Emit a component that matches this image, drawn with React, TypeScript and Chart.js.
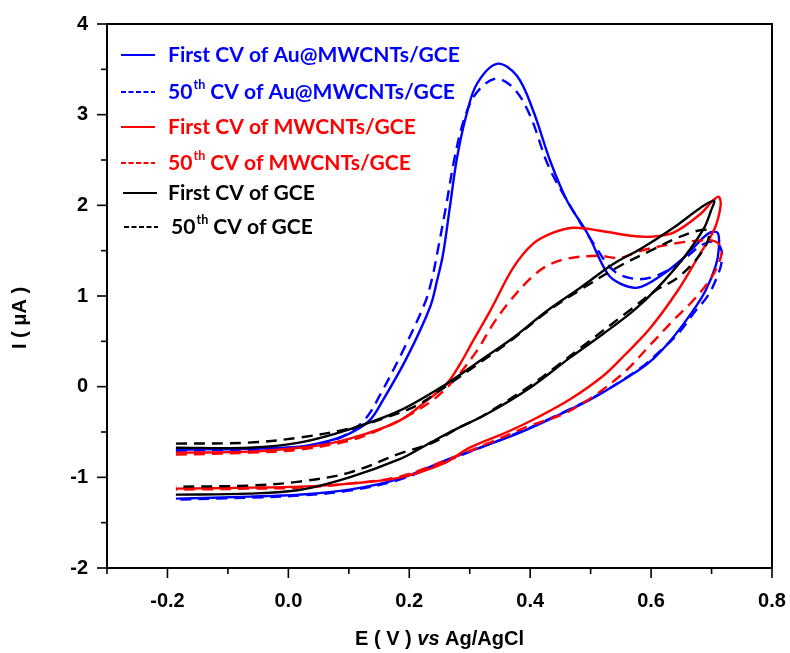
import React, { useEffect, useRef } from "react";
import { Chart, registerables } from "chart.js";
Chart.register(...registerables);

// ---------- data (E in V vs Ag/AgCl, I in µA) ----------
const auFirstX = [-0.186, -0.065, 0.018, 0.068, 0.101, 0.134, 0.156, 0.196, 0.234, 0.246, 0.256, 0.267, 0.279, 0.295, 0.312, 0.345, 0.378, 0.405, 0.433, 0.461, 0.495, 0.528, 0.549, 0.578, 0.616, 0.654, 0.694, 0.71, 0.712, 0.707, 0.69, 0.666, 0.636, 0.604, 0.578, 0.505, 0.438, 0.383, 0.317, 0.267, 0.184, 0.101, 0.018, -0.065, -0.186];
const auFirstY = [-0.695, -0.684, -0.662, -0.595, -0.518, -0.375, -0.154, 0.32, 0.871, 1.17, 1.466, 1.974, 2.525, 3.01, 3.341, 3.561, 3.429, 3.043, 2.492, 2.051, 1.687, 1.246, 1.136, 1.092, 1.224, 1.422, 1.687, 1.698, 1.521, 1.334, 1.058, 0.805, 0.54, 0.309, 0.176, -0.121, -0.342, -0.507, -0.673, -0.794, -1.014, -1.136, -1.191, -1.213, -1.235];

const auFiftyX = [-0.186, -0.065, 0.018, 0.068, 0.101, 0.129, 0.151, 0.188, 0.226, 0.238, 0.247, 0.261, 0.274, 0.29, 0.31, 0.342, 0.372, 0.4, 0.43, 0.466, 0.505, 0.538, 0.571, 0.599, 0.632, 0.661, 0.682, 0.702, 0.715, 0.717, 0.71, 0.694, 0.671, 0.646, 0.612, 0.583, 0.516, 0.45, 0.388, 0.322, 0.267, 0.184, 0.101, 0.018, -0.065, -0.186];
const auFiftyY = [-0.706, -0.695, -0.673, -0.606, -0.507, -0.342, -0.099, 0.375, 0.926, 1.2, 1.499, 1.996, 2.492, 2.933, 3.23, 3.396, 3.297, 2.988, 2.437, 1.996, 1.577, 1.279, 1.191, 1.202, 1.301, 1.444, 1.555, 1.599, 1.533, 1.389, 1.224, 1.003, 0.816, 0.595, 0.375, 0.209, -0.077, -0.298, -0.485, -0.662, -0.805, -1.025, -1.147, -1.202, -1.224, -1.246];

const mwFirstX = [-0.186, -0.065, 0.018, 0.068, 0.129, 0.184, 0.229, 0.262, 0.284, 0.305, 0.334, 0.372, 0.405, 0.438, 0.471, 0.516, 0.566, 0.599, 0.637, 0.682, 0.702, 0.712, 0.715, 0.705, 0.677, 0.644, 0.599, 0.558, 0.521, 0.466, 0.412, 0.362, 0.3, 0.256, 0.184, 0.101, 0.018, -0.065, -0.186];
const mwFirstY = [-0.728, -0.717, -0.673, -0.628, -0.518, -0.375, -0.154, 0.033, 0.25, 0.5, 0.838, 1.312, 1.577, 1.698, 1.753, 1.72, 1.665, 1.654, 1.698, 1.907, 2.051, 2.095, 1.996, 1.742, 1.422, 1.058, 0.65, 0.36, 0.12, -0.14, -0.34, -0.5, -0.673, -0.849, -1.003, -1.069, -1.103, -1.114, -1.125];

const mwFiftyX = [-0.186, -0.065, 0.018, 0.101, 0.151, 0.201, 0.242, 0.276, 0.312, 0.339, 0.367, 0.4, 0.428, 0.461, 0.511, 0.549, 0.583, 0.637, 0.677, 0.702, 0.715, 0.717, 0.708, 0.692, 0.668, 0.638, 0.604, 0.549, 0.466, 0.4, 0.329, 0.272, 0.184, 0.101, 0.018, -0.065, -0.186];
const mwFiftyY = [-0.75, -0.728, -0.695, -0.595, -0.474, -0.309, -0.132, 0.088, 0.397, 0.695, 0.948, 1.191, 1.334, 1.411, 1.444, 1.422, 1.499, 1.577, 1.61, 1.61, 1.555, 1.477, 1.3, 1.13, 0.94, 0.74, 0.5, 0.12, -0.265, -0.43, -0.628, -0.783, -0.992, -1.069, -1.114, -1.125, -1.136];

const gceFirstX = [-0.186, -0.065, 0.018, 0.101, 0.184, 0.262, 0.317, 0.372, 0.428, 0.483, 0.538, 0.583, 0.637, 0.682, 0.704, 0.699, 0.687, 0.654, 0.611, 0.571, 0.521, 0.466, 0.4, 0.329, 0.272, 0.229, 0.184, 0.101, 0.018, -0.065, -0.186];
const gceFirstY = [-0.673, -0.673, -0.617, -0.47, -0.265, 0.033, 0.287, 0.54, 0.838, 1.092, 1.356, 1.521, 1.753, 1.974, 2.051, 1.94, 1.742, 1.422, 1.092, 0.838, 0.584, 0.32, -0.011, -0.298, -0.485, -0.64, -0.8, -1.0, -1.14, -1.18, -1.191];

const gceFiftyX = [-0.186, -0.065, 0.018, 0.101, 0.156, 0.212, 0.262, 0.317, 0.372, 0.428, 0.483, 0.549, 0.599, 0.644, 0.677, 0.694, 0.694, 0.677, 0.644, 0.607, 0.566, 0.488, 0.445, 0.4, 0.322, 0.279, 0.239, 0.184, 0.101, 0.018, -0.065, -0.186];
const gceFiftyY = [-0.628, -0.617, -0.562, -0.463, -0.353, -0.209, 0.011, 0.265, 0.529, 0.827, 1.069, 1.334, 1.499, 1.643, 1.72, 1.72, 1.61, 1.422, 1.202, 1.058, 0.849, 0.452, 0.232, 0.011, -0.32, -0.463, -0.617, -0.739, -0.948, -1.047, -1.091, -1.103];

const xTickValues = [-0.2, 0, 0.2, 0.4, 0.6, 0.8];
const xTickLabels = ["-0.2", "0.0", "0.2", "0.4", "0.6", "0.8"];
const xMinorValues = [-0.3, -0.1, 0.1, 0.3, 0.5, 0.7];
const yTickValues = [-2, -1, 0, 1, 2, 3, 4];
const yTickLabels = ["-2", "-1", "0", "1", "2", "3", "4"];
const yMinorValues = [-1.5, -0.5, 0.5, 1.5, 2.5, 3.5];

const seriesLabels = [
  ["First CV of Au@MWCNTs/GCE"],
  ["50", "th", " CV of Au@MWCNTs/GCE"],
  ["First CV of MWCNTs/GCE"],
  ["50", "th", " CV of MWCNTs/GCE"],
  ["First CV of GCE"],
  ["50", "th", " CV of GCE"],
];
const xTitleParts = ["E ( V ) ", "vs", " Ag/AgCl"];
const yTitle = "I ( \u03BCA )";

const BLUE = "#0000ff";
const RED = "#ff0000";
const BLACK = "#000000";

const zip = (xs: number[], ys: number[]) => xs.map((x, i) => ({ x, y: ys[i] }));

const AXIS_FONT = '"Liberation Sans", Arial, sans-serif';
const LEGEND_FONT = 'Lato, "Open Sans", sans-serif';

const decorPlugin = {
  id: "decor",
  afterDraw(chart: any) {
    const { ctx, chartArea: a, scales } = chart;
    const xs = scales.x;
    const ys = scales.y;
    ctx.save();
    // frame
    ctx.strokeStyle = "#000";
    ctx.lineWidth = 2;
    ctx.strokeRect(a.left, a.top, a.right - a.left, a.bottom - a.top);
    // ticks
    ctx.lineWidth = 1.6;
    const tickX = (v: number, len: number) => {
      const px = xs.getPixelForValue(v);
      ctx.beginPath();
      ctx.moveTo(px, a.bottom);
      ctx.lineTo(px, a.bottom + len);
      ctx.stroke();
    };
    const tickY = (v: number, len: number) => {
      const py = ys.getPixelForValue(v);
      ctx.beginPath();
      ctx.moveTo(a.left, py);
      ctx.lineTo(a.left - len, py);
      ctx.stroke();
    };
    xTickValues.forEach((v) => tickX(v, 10));
    xMinorValues.forEach((v) => tickX(v, 6));
    yTickValues.forEach((v) => tickY(v, 10));
    yMinorValues.forEach((v) => tickY(v, 6));

    // tick labels
    ctx.fillStyle = "#000";
    ctx.font = `bold 20px ${AXIS_FONT}`;
    ctx.textAlign = "center";
    ctx.textBaseline = "middle";
    xTickValues.forEach((v, i) => {
      ctx.fillText(xTickLabels[i], xs.getPixelForValue(v), a.bottom + 33);
    });
    ctx.textAlign = "right";
    yTickValues.forEach((v, i) => {
      ctx.fillText(yTickLabels[i], a.left - 19, ys.getPixelForValue(v));
    });

    // x title with italic "vs"
    const fonts = [
      `bold 20px ${AXIS_FONT}`,
      `italic bold 20px ${AXIS_FONT}`,
      `bold 20px ${AXIS_FONT}`,
    ];
    let total = 0;
    const widths = xTitleParts.map((t, i) => {
      ctx.font = fonts[i];
      const w = ctx.measureText(t).width;
      total += w;
      return w;
    });
    let cx = (a.left + a.right) / 2 - total / 2;
    ctx.textBaseline = "alphabetic";
    ctx.textAlign = "left";
    xTitleParts.forEach((t, i) => {
      ctx.font = fonts[i];
      ctx.fillText(t, cx, 645);
      cx += widths[i];
    });

    // y title
    ctx.save();
    ctx.translate(20, 318);
    ctx.rotate(-Math.PI / 2);
    ctx.font = `bold 20px ${AXIS_FONT}`;
    ctx.textAlign = "center";
    ctx.textBaseline = "middle";
    ctx.fillText(yTitle, 0, 0);
    ctx.restore();

    // legend
    ctx.font = `bold 20px ${LEGEND_FONT}`;
    const w1 = ctx.measureText(seriesLabels[0][0]).width;
    const fs = (20 * 292) / w1;
    const rowsY = [55, 92, 127, 163, 193, 227];
    const colors = [BLUE, BLUE, RED, RED, BLACK, BLACK];
    const dashed = [false, true, false, true, false, true];
    const lineX0 = [121, 121, 121, 121, 123, 124];
    const textX0 = [168, 168, 168, 168, 168, 171];
    seriesLabels.forEach((parts, i) => {
      const y = rowsY[i];
      ctx.strokeStyle = colors[i];
      ctx.lineWidth = 2;
      ctx.setLineDash(dashed[i] ? [5, 2.5] : []);
      ctx.beginPath();
      ctx.moveTo(lineX0[i], y);
      ctx.lineTo(lineX0[i] + 34, y);
      ctx.stroke();
      ctx.setLineDash([]);
      ctx.fillStyle = colors[i];
      ctx.textBaseline = "middle";
      let tx = textX0[i];
      if (parts.length === 1) {
        ctx.font = `bold ${fs}px ${LEGEND_FONT}`;
        ctx.fillText(parts[0], tx, y);
      } else {
        ctx.font = `bold ${fs}px ${LEGEND_FONT}`;
        ctx.fillText(parts[0], tx, y);
        tx += ctx.measureText(parts[0]).width + 1;
        ctx.font = `bold ${fs * 0.6}px ${LEGEND_FONT}`;
        ctx.fillText(parts[1], tx, y - fs * 0.33);
        tx += ctx.measureText(parts[1]).width;
        ctx.font = `bold ${fs}px ${LEGEND_FONT}`;
        ctx.fillText(parts[2], tx, y);
      }
    });
    ctx.restore();
  },
};

export default function App() {
  const ref = useRef<HTMLCanvasElement | null>(null);
  useEffect(() => {
    if (!ref.current) return;
    const mk = (label: string, xs: number[], ys: number[], color: string, dash: boolean) => ({
      label,
      data: zip(xs, ys),
      borderColor: color,
      backgroundColor: color,
      borderWidth: 2.4,
      borderDash: dash ? [11, 7] : [],
      pointRadius: 0,
      showLine: true,
      fill: false,
      tension: 0.35,
    });
    const chart = new Chart(ref.current, {
      type: "scatter",
      data: {
        datasets: [
          mk("50th CV of GCE", gceFiftyX, gceFiftyY, BLACK, true),
          mk("First CV of GCE", gceFirstX, gceFirstY, BLACK, false),
          mk("50th CV of MWCNTs/GCE", mwFiftyX, mwFiftyY, RED, true),
          mk("First CV of MWCNTs/GCE", mwFirstX, mwFirstY, RED, false),
          mk("50th CV of Au@MWCNTs/GCE", auFiftyX, auFiftyY, BLUE, true),
          mk("First CV of Au@MWCNTs/GCE", auFirstX, auFirstY, BLUE, false),
        ],
      },
      options: {
        animation: false,
        responsive: true,
        maintainAspectRatio: false,
        layout: { padding: { top: 24, right: 18, left: 0, bottom: 0 } },
        plugins: { legend: { display: false }, tooltip: { enabled: false } },
        scales: {
          x: {
            type: "linear",
            min: -0.3,
            max: 0.8,
            grid: { display: false, drawTicks: false },
            border: { display: false },
            ticks: { display: false },
            afterFit: (s: any) => {
              s.height = 85;
            },
          },
          y: {
            type: "linear",
            min: -2,
            max: 4,
            grid: { display: false, drawTicks: false },
            border: { display: false },
            ticks: { display: false },
            afterFit: (s: any) => {
              s.width = 107;
            },
          },
        },
      },
      plugins: [decorPlugin],
    } as any);
    return () => chart.destroy();
  }, []);
  return (
    <div style={{ position: "fixed", left: 0, top: 0, width: 790, height: 653, background: "#fff" }}>
      <canvas ref={ref} />
    </div>
  );
}
